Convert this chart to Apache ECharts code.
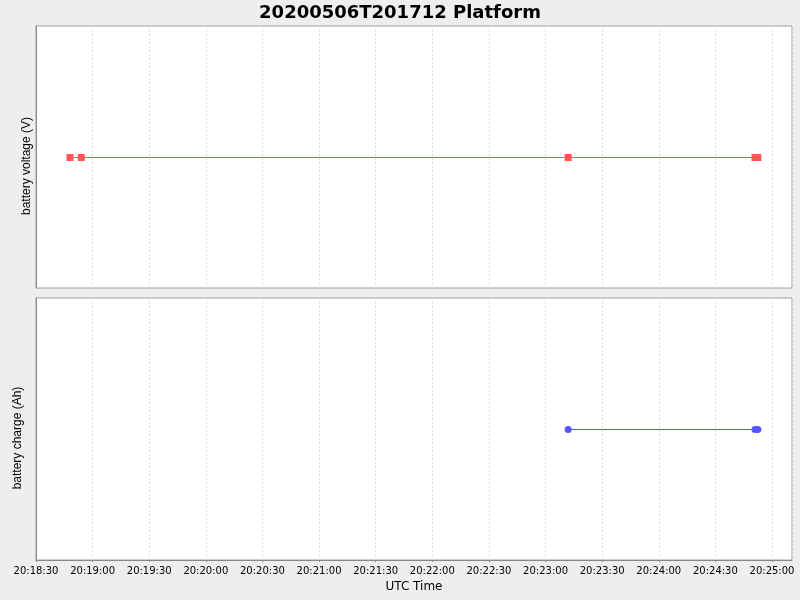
<!DOCTYPE html>
<html>
<head>
<meta charset="utf-8">
<script src="https://cdn.jsdelivr.net/npm/echarts@6/dist/echarts.min.js"></script>
<style>
html,body{margin:0;padding:0;background:#eeeeee;}
#chart{width:800px;height:600px;}
</style>
</head>
<body>
<div id="chart"></div>
<script>
// sample times (UTC, 2020-05-06) and values
var voltageTimes=['20:18:48','20:18:54','20:23:12','20:24:51','20:24:52.5'];
var voltageValues=[1,1,1,1,1];
var chargeTimes=['20:23:12','20:24:51','20:24:52.5'];
var chargeValues=[1,1,1];
var xStart='20:18:30';
var xEnd='20:25:10.6';

function toMs(t){
	var p=t.split(":");
	return Date.UTC(2020,4,6,+p[0],+p[1],0)+Math.round(parseFloat(p[2])*1000);
}
function pad(n){return (n<10?'0':'')+n;}
function fmtTime(v){
	if(v%30000!=0){return '';}
	var d=new Date(v);
	return pad(d.getUTCHours())+':'+pad(d.getUTCMinutes())+':'+pad(d.getUTCSeconds());
}
function pairs(ts,vs){
	var out=[];
	for(var i=0;i<ts.length;i++){
		out.push([toMs(ts[i]),vs[i]]);
	}
	return out;
}

var xMin=toMs(xStart),xMax=toMs(xEnd);
var font='DejaVu Sans';
var yMax=2.0077;	//keeps the flat line on a whole pixel row

var myChart=echarts.init(document.getElementById("chart"));
var option={
	backgroundColor:'#eeeeee',
	animation:false,
	title:{
		text:'20200506T201712 Platform',
		left:'center',
		top:-1,
		textStyle:{fontFamily:font,fontSize:18,fontWeight:'bold',color:'#000'}
	},
	grid:[
		{left:36,top:26,width:756,height:262,show:true,backgroundColor:'#fff',borderColor:'#a0a0a0',borderWidth:1},
		{left:36,top:298,width:756,height:262,show:true,backgroundColor:'#fff',borderColor:'#a0a0a0',borderWidth:1}
	],
	xAxis:[
		{
			type:'value',gridIndex:0,min:xMin,max:xMax,interval:30000,
			axisLine:{show:false},axisTick:{show:false},axisLabel:{show:false},
			splitLine:{show:true,lineStyle:{color:'#dddddd',type:[2,2],width:1}}
		},
		{
			type:'value',gridIndex:1,min:xMin,max:xMax,interval:30000,
			name:'UTC Time',nameLocation:'middle',nameGap:21,
			nameTextStyle:{fontFamily:font,fontSize:12,color:'#000'},
			axisLine:{show:true,lineStyle:{color:'#888888'}},
			axisTick:{show:true,length:2,lineStyle:{color:'#888888'}},
			axisLabel:{show:true,margin:6,fontFamily:font,fontSize:10,color:'#000',formatter:fmtTime,showMaxLabel:false},
			splitLine:{show:true,lineStyle:{color:'#dddddd',type:[2,2],width:1}}
		}
	],
	yAxis:[
		{
			type:'value',gridIndex:0,min:0,max:yMax,
			axisLine:{show:true,lineStyle:{color:'#888888'}},
			axisTick:{show:false},axisLabel:{show:false},splitLine:{show:false}
		},
		{
			type:'value',gridIndex:1,min:0,max:yMax,
			axisLine:{show:true,lineStyle:{color:'#888888'}},
			axisTick:{show:false},axisLabel:{show:false},splitLine:{show:false}
		}
	],
	graphic:[
		{type:'text',x:27,y:166,rotation:Math.PI/2,
			style:{text:'battery voltage (V)',fontFamily:'Liberation Sans',fontSize:12,fill:'#000',align:'center',verticalAlign:'middle'}},
		{type:'text',x:18,y:438,rotation:Math.PI/2,
			style:{text:'battery charge (Ah)',fontFamily:'Liberation Sans',fontSize:12,fill:'#000',align:'center',verticalAlign:'middle'}}
	],
	series:[
		{
			name:'battery voltage',type:'line',xAxisIndex:0,yAxisIndex:0,
			data:pairs(voltageTimes,voltageValues),
			symbol:'rect',symbolSize:7,showAllSymbol:true,
			itemStyle:{color:'#ff5555'},
			lineStyle:{color:'#ff5555',width:1}
		},
		{
			name:'battery charge',type:'line',xAxisIndex:1,yAxisIndex:1,
			data:pairs(chargeTimes,chargeValues),
			symbol:'circle',symbolSize:7,showAllSymbol:true,
			itemStyle:{color:'#5555ff'},
			lineStyle:{color:'#5555ff',width:1}
		}
	]
};
myChart.setOption(option);
</script>
</body>
</html>
